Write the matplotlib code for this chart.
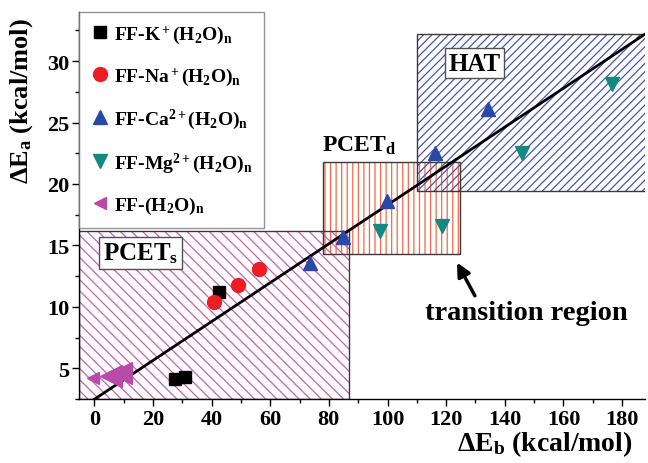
import matplotlib
matplotlib.use("Agg")
import matplotlib.pyplot as plt
from matplotlib.patches import Rectangle
from matplotlib.ticker import MultipleLocator

plt.rcParams['font.family'] = ['Liberation Serif', 'DejaVu Serif']
plt.rcParams['font.weight'] = 'bold'
plt.rcParams['mathtext.fontset'] = 'custom'
plt.rcParams['mathtext.rm'] = 'Liberation Serif:bold'
plt.rcParams['mathtext.it'] = 'Liberation Serif:bold'
plt.rcParams['mathtext.bf'] = 'Liberation Serif:bold'
plt.rcParams['hatch.linewidth'] = 0.9

# ---------------- data ----------------
k_x = [27.4, 31.0, 42.5]
k_y = [4.15, 4.25, 11.2]

na_x = [40.8, 48.9, 56.1]
na_y = [10.4, 11.8, 13.1]

ca_x = [73.6, 84.7, 99.9, 116.2, 134.4]
ca_y = [13.6, 15.7, 18.6, 22.5, 26.1]

mg_x = [97.4, 118.5, 145.8, 176.5]
mg_y = [16.2, 16.6, 22.5, 28.1]

ff_x = [-0.5, 5.8, 9.0]
ff_y = [4.2, 4.35, 4.6]

fit_x = [0.0, 188.0]
fit_y = [2.47, 32.23]

region_names = ['PCETs', 'PCETd', 'HAT']
region_x0 = [-5.2, 78.0, 110.0]
region_x1 = [86.8, 124.7, 192.0]
region_y0 = [2.5, 14.3, 19.4]
region_y1 = [16.2, 21.8, 32.2]

xticks = [0, 20, 40, 60, 80, 100, 120, 140, 160, 180]
yticks = [5, 10, 15, 20, 25, 30]

# ---------------- figure ----------------
fig = plt.figure(figsize=(6.48, 4.64), dpi=100)
ax = fig.add_axes([79/648, 1-400/464, (645-79)/648, (400-13)/464])
ax.set_xlim(-5.2, 187.8)
ax.set_ylim(2.5, 34.0)

hatch_styles = {'PCETs': ('\\\\\\', '#c860b0'),
                'PCETd': ('|||', '#f06a4a'),
                'HAT': ('////', '#4a55a8')}
for name, x0, x1, y0, y1 in zip(region_names, region_x0, region_x1, region_y0, region_y1):
    h, c = hatch_styles[name]
    ax.add_patch(Rectangle((x0, y0), x1-x0, y1-y0, fill=False, hatch=h,
                           edgecolor=c, linewidth=0, zorder=1))
    ax.add_patch(Rectangle((x0, y0), x1-x0, y1-y0, fill=False,
                           edgecolor='#3a3a3a', linewidth=1.0, zorder=1.5))

ax.plot(fit_x, fit_y, color='black', lw=2.0, zorder=2)

ms = 10
ax.plot(k_x, k_y, 's', color='black', ms=8.5, ls='none', zorder=3,
        label=r'FF-K$^+$(H$_2$O)$_n$')
ax.plot(na_x, na_y, 'o', color='#ee1c24', ms=ms, ls='none', zorder=3,
        label=r'FF-Na$^+$(H$_2$O)$_n$')
ax.plot(ca_x, ca_y, '^', color='#2a48a6', ms=ms, ls='none', zorder=3,
        label=r'FF-Ca$^{2+}$(H$_2$O)$_n$')
ax.plot(mg_x, mg_y, 'v', color='#138a80', ms=ms, ls='none', zorder=3,
        label=r'FF-Mg$^{2+}$(H$_2$O)$_n$')
ax.plot(ff_x[:1], ff_y[:1], '<', color='#b84aa8', ms=9, ls='none', zorder=3,
        label=r'FF-(H$_2$O)$_n$')
ax.plot(ff_x[1:], ff_y[1:], '<', color='#b84aa8', ms=16, ls='none', zorder=3)

leg = ax.legend(loc='upper left', bbox_to_anchor=(0, 1), borderaxespad=0,
                fontsize=14, frameon=True, fancybox=False, labelspacing=1.02,
                handletextpad=0.2, handlelength=1.0, borderpad=0.6)
leg.get_frame().set_edgecolor('#7a7a7a')
leg.get_frame().set_linewidth(1.0)
leg.set_zorder(5)

ax.text(15.9, 14.37, r'PCET$_s$', fontsize=18, ha='center', va='center', zorder=4,
        bbox=dict(boxstyle='square,pad=0.15', fc='white', ec='#505050', lw=1.0))
ax.text(129.7, 29.84, 'HAT', fontsize=18, ha='center', va='center', zorder=4,
        bbox=dict(boxstyle='square,pad=0.15', fc='white', ec='#505050', lw=1.0))
ax.text(77.8, 22.7, r'PCET$_d$', fontsize=17, ha='left', va='baseline', zorder=4)

ax.annotate('', xy=(123.7, 13.6), xytext=(129.8, 10.9), zorder=4,
            arrowprops=dict(arrowstyle='-|>,head_length=0.8,head_width=0.4',
                            color='black', lw=2.5, shrinkA=0, shrinkB=0))
ax.text(147.4, 9.0, 'transition region', fontsize=20.5, ha='center',
        va='baseline', zorder=4)

ax.set_xticks(xticks)
ax.set_yticks(yticks)
ax.xaxis.set_minor_locator(MultipleLocator(10))
ax.yaxis.set_minor_locator(MultipleLocator(2.5))
ax.tick_params(which='major', direction='out', length=5, width=1, labelsize=16, pad=2)
ax.tick_params(which='minor', direction='out', length=3, width=1)
for lab in ax.get_xticklabels() + ax.get_yticklabels():
    lab.set_fontweight('bold')

ax.spines['top'].set_visible(False)
ax.spines['right'].set_visible(False)
ax.spines['left'].set_linewidth(1.0)
ax.spines['bottom'].set_linewidth(1.0)

fig.text(545/648, 1-444/464, r'$\Delta$E$_b$ (kcal/mol)', fontsize=20,
         ha='center', va='center')
fig.text(22/648, 1-101/464, r'$\Delta$E$_a$ (kcal/mol)', fontsize=19,
         ha='center', va='center', rotation=90)

fig.savefig('out.png', dpi=100)
